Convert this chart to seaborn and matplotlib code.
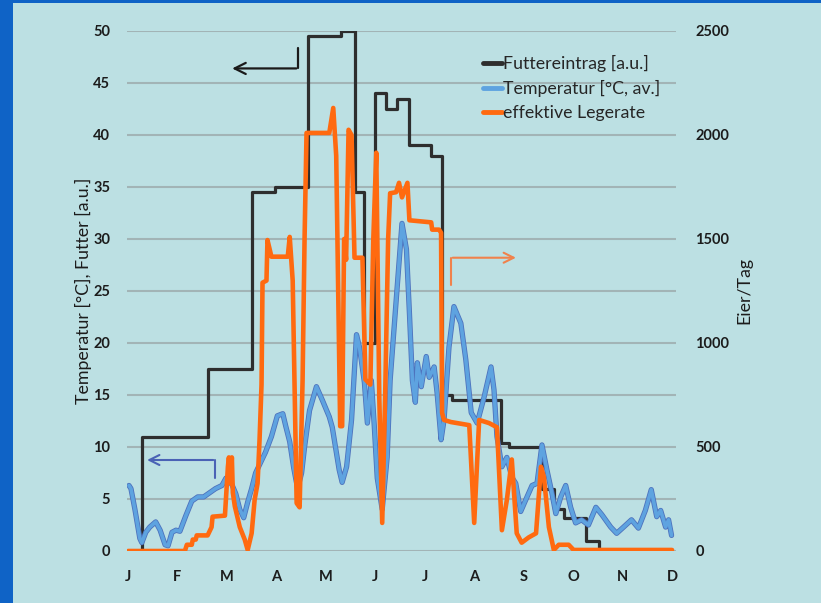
import matplotlib
matplotlib.use("Agg")
import matplotlib.pyplot as plt
import matplotlib.patheffects as pe
from matplotlib.patches import Rectangle
from matplotlib.lines import Line2D
import pandas as pd
import seaborn as sns

# --- Daten (x in Monaten ab 1. Januar) ---
monate = ["J", "F", "M", "A", "M", "J", "J", "A", "S", "O", "N", "D"]

futter_x = [0.00, 0.28, 1.61, 2.50, 2.98, 3.63, 4.31, 4.58, 4.78, 4.99, 5.22,
            5.44, 5.69, 6.13, 6.35, 6.55, 7.54, 7.70, 8.37, 8.62, 8.82, 9.27,
            9.52, 11.0]
futter_y = [0, 11, 17.5, 34.5, 35, 49.5, 50, 34.5, 20, 44, 42.5,
            43.5, 39, 38, 15, 14.5, 10.4, 10.0, 6.0, 4.0, 3.2, 1.0,
            0, 0]

temp_x = [0.02, 0.06, 0.14, 0.24, 0.28, 0.36, 0.44, 0.56, 0.65, 0.75, 0.81,
          0.89, 0.97, 1.05, 1.17, 1.29, 1.41, 1.53, 1.65, 1.77, 1.90, 1.98,
          2.10, 2.18, 2.26, 2.34, 2.42, 2.50, 2.58, 2.66, 2.78, 2.90, 3.02,
          3.13, 3.19, 3.27, 3.35, 3.43, 3.51, 3.57, 3.67, 3.81, 3.93, 4.07,
          4.13, 4.27, 4.33, 4.42, 4.52, 4.62, 4.68, 4.78, 4.84, 4.92, 4.98,
          5.04, 5.14, 5.24, 5.30, 5.54, 5.63, 5.69, 5.75, 5.81, 5.85, 5.93,
          6.03, 6.09, 6.19, 6.25, 6.33, 6.39, 6.49, 6.59, 6.73, 6.83, 6.94,
          7.06, 7.20, 7.34, 7.40, 7.46, 7.56, 7.66, 7.76, 7.84, 7.94, 8.04,
          8.17, 8.27, 8.37, 8.47, 8.57, 8.65, 8.75, 8.85, 8.95, 9.05, 9.17,
          9.31, 9.46, 9.58, 9.76, 9.88, 10.02, 10.18, 10.32, 10.46, 10.58,
          10.69, 10.77, 10.87, 10.93, 10.99]
temp_y = [6.3, 6.0, 4.0, 1.2, 0.8, 1.8, 2.3, 2.8, 2.0, 0.6, 0.5,
          1.8, 2.0, 1.9, 3.4, 4.8, 5.2, 5.2, 5.6, 6.0, 6.3, 7.0,
          6.4, 5.5, 4.0, 3.2, 4.7, 6.0, 7.5, 8.3, 9.5, 11.0, 13.0,
          13.2, 12.0, 10.5, 8.0, 6.0, 7.5, 10.0, 13.5, 15.8, 14.5, 12.9,
          11.9, 7.8, 6.6, 8.1, 12.6, 20.8, 19.6, 16.2, 12.3, 16.4, 12.0,
          7.0, 4.0, 9.0, 16.4, 31.5, 29.0, 22.9, 16.4, 14.3, 18.1, 15.8,
          18.7, 16.7, 17.7, 15.2, 10.7, 12.6, 19.6, 23.5, 21.9, 18.4, 13.3,
          12.3, 14.8, 17.7, 15.5, 11.0, 8.1, 9.0, 7.1, 6.5, 3.8, 4.9,
          6.3, 6.5, 10.2, 7.8, 5.6, 3.6, 5.2, 6.3, 4.2, 2.7, 3.0,
          2.5, 4.2, 3.5, 2.3, 1.7, 2.3, 3.0, 2.2, 3.9, 5.9,
          3.3, 3.9, 2.3, 3.0, 1.5]

lege_x = [0.00, 1.15, 1.19, 1.21, 1.29, 1.31, 1.37, 1.39, 1.61, 1.69, 1.71,
          1.96, 2.02, 2.04, 2.08, 2.10, 2.12, 2.16, 2.26, 2.36, 2.42, 2.50,
          2.56, 2.62, 2.66, 2.70, 2.72, 2.80, 2.82, 2.90, 3.23, 3.27, 3.33,
          3.39, 3.41, 3.47, 3.53, 3.57, 3.61, 4.07, 4.15, 4.21, 4.25, 4.29,
          4.33, 4.37, 4.41, 4.46, 4.52, 4.58, 4.74, 4.80, 4.90, 4.96, 5.02,
          5.08, 5.14, 5.20, 5.26, 5.30, 5.42, 5.48, 5.54, 5.65, 5.69, 6.13,
          6.15, 6.29, 6.33, 6.35, 6.39, 6.53, 6.90, 7.00, 7.10, 7.30, 7.46,
          7.56, 7.66, 7.76, 7.86, 7.96, 8.10, 8.25, 8.35, 8.41, 8.51, 8.61,
          8.71, 8.91, 9.01, 11.0]
lege_y = [0, 0, 30, 30, 30, 55, 55, 75, 75, 115, 165,
          170, 405, 450, 325, 450, 280, 215, 115, 55, 5, 85,
          245, 325, 535, 800, 1290, 1300, 1495, 1415, 1415, 1510, 1300,
          500, 230, 210, 820, 1500, 2010, 2010, 2130, 1900, 1250, 600,
          600, 1500, 1400, 2025, 2000, 1410, 1410, 825, 800, 1500, 1915,
          750, 135, 750, 1500, 1720, 1725, 1770, 1700, 1770, 1590, 1580,
          1545, 1545, 1530, 665, 630, 620, 605, 135, 630, 615, 595,
          100, 245, 440, 85, 40, 65, 85, 405, 355, 115, 5,
          30, 30, 5, 5]

df_futter = pd.DataFrame({"monat": futter_x, "wert": futter_y})
df_temp = pd.DataFrame({"monat": temp_x, "wert": temp_y})
df_lege = pd.DataFrame({"monat": lege_x, "wert": lege_y})

# --- Stil ---
sns.set_style("white")
plt.rcParams["font.family"] = ["Lato", "DejaVu Sans"]

bg = "#bce0e3"
grid_c = "#a2b4b6"
c_black = "#2e2e2e"
c_blue = "#5ea3e0"
c_orange = "#ff6a10"
txt_c = "#1c1c1c"

W, H = 821, 603
fig = plt.figure(figsize=(W / 100, H / 100), dpi=100)
fig.patch.set_facecolor("#0f63c6")
fig.add_artist(Rectangle((13 / W, 0), 1, 1 - 3 / H, transform=fig.transFigure,
                         facecolor=bg, edgecolor="none", zorder=0))

ax = fig.add_axes([127 / W, 1 - 551 / H, 549 / W, 520 / H])
ax.set_facecolor(bg)
ax2 = ax.twinx()

# Linien
sns.lineplot(data=df_futter, x="monat", y="wert", ax=ax, color=c_black,
             linewidth=2.3, drawstyle="steps-post", legend=False)
sns.lineplot(data=df_temp, x="monat", y="wert", ax=ax, color=c_blue,
             linewidth=2.6, legend=False,
             path_effects=[pe.Stroke(linewidth=3.8, foreground="#4d72bd"), pe.Normal()])
sns.lineplot(data=df_lege, x="monat", y="wert", ax=ax2, color=c_orange,
             linewidth=3.3, legend=False)

# Achsen
ax.set_xlim(-0.02, 11.08)
ax.set_ylim(0, 50)
ax2.set_ylim(0, 2500)
ax.set_yticks(range(0, 51, 5))
ax2.set_yticks(range(0, 2501, 500))
ax.set_xticks(range(12))
ax.set_xticklabels(monate)

for lab in ax.get_xticklabels() + ax.get_yticklabels() + ax2.get_yticklabels():
    lab.set_fontsize(10.5)
    lab.set_fontweight("bold")
    lab.set_color(txt_c)

ax.grid(axis="y", color=grid_c, linewidth=1.5)
ax.grid(axis="x", visible=False)
ax.set_axisbelow(True)
ax.tick_params(axis="y", length=0, pad=12)
ax2.tick_params(axis="y", length=0, pad=14)
ax.tick_params(axis="x", length=3.5, width=1, color=grid_c, pad=10, direction="out")
for a in (ax, ax2):
    for s in a.spines.values():
        s.set_visible(False)

ax.set_xlabel("")
ax.set_ylabel("Temperatur [°C], Futter [a.u.]", fontsize=12.8, labelpad=1, color=txt_c)
ax2.set_ylabel("Eier/Tag", fontsize=12.8, labelpad=5, color=txt_c, rotation=90)

# Pfeile (Achsenzuordnung)
ax.plot([3.44, 3.44], [48.4, 46.4], color="#1a1a1a", lw=1.6)
ax.annotate("", xy=(2.05, 46.4), xytext=(3.46, 46.4),
            arrowprops=dict(arrowstyle="->", color="#1a1a1a", lw=1.6, mutation_scale=20))
ax.plot([1.76, 1.76], [7.0, 8.75], color="#4a62b5", lw=1.5)
ax.annotate("", xy=(0.33, 8.75), xytext=(1.78, 8.75),
            arrowprops=dict(arrowstyle="->", color="#4a62b5", lw=1.5, mutation_scale=18))
ax.plot([6.53, 6.53], [25.6, 28.2], color="#f0824c", lw=1.5)
ax.annotate("", xy=(7.9, 28.2), xytext=(6.51, 28.2),
            arrowprops=dict(arrowstyle="->", color="#f0824c", lw=1.5, mutation_scale=18))

# Legende
handles = [Line2D([], [], color=c_black, lw=3.5),
           Line2D([], [], color=c_blue, lw=3.5),
           Line2D([], [], color=c_orange, lw=3.5)]
labels = ["Futtereintrag [a.u.]", "Temperatur [°C, av.]", "effektive Legerate"]
fig.legend(handles, labels, loc="upper left", bbox_to_anchor=(483 / W, 1 - 55 / H),
           bbox_transform=fig.transFigure, frameon=False, fontsize=12.8,
           handlelength=1.05, handletextpad=0.05, labelspacing=0.45,
           borderpad=0, borderaxespad=0)

fig.savefig("out.png", dpi=100, facecolor=fig.get_facecolor())
